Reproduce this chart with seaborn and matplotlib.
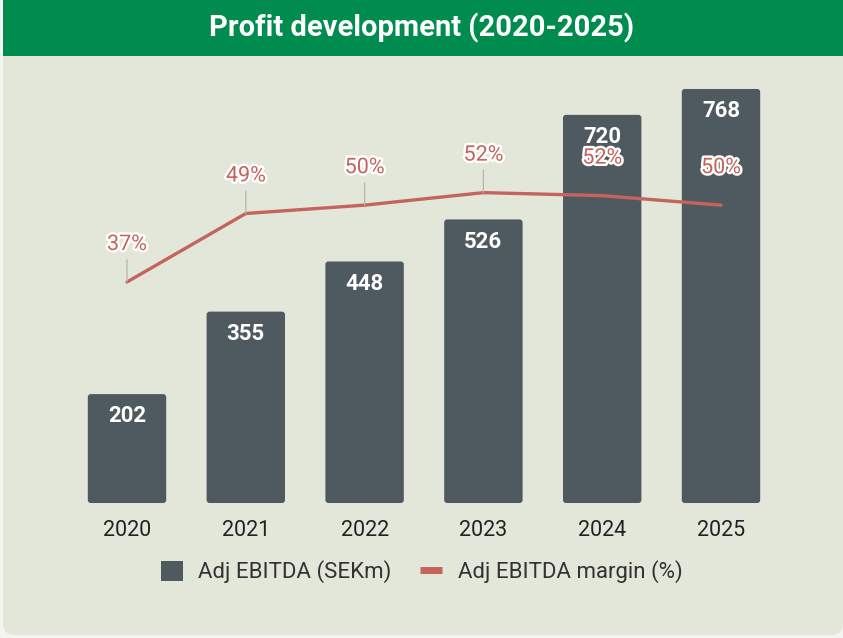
import numpy as np
import pandas as pd
import matplotlib
matplotlib.use("Agg")
import matplotlib.pyplot as plt
import matplotlib.patheffects as pe
from matplotlib.patches import Rectangle, FancyBboxPatch, Patch
from matplotlib.lines import Line2D
import seaborn as sns

# ==========================================
# DATA
# ==========================================
years = ["2020", "2021", "2022", "2023", "2024", "2025"]
ebitda = [202, 355, 448, 526, 720, 768]
margin = [37.1, 48.6, 50.0, 52.1, 51.6, 50.0]
leader = [True, True, True, True, False, False]

TITLE = "Profit development (2020-2025)"
BAR_LABEL = "Adj EBITDA (SEKm)"
LINE_LABEL = "Adj EBITDA margin (%)"

# Colours
GREEN = "#008c4f"
CARD = "#e3e7da"
OUTER = "#f4f5f0"
BAR = "#4f5a60"
LINE = "#c4645c"
TEXT = "#222222"

df = pd.DataFrame({"year": years, "ebitda": ebitda, "margin": margin})

sns.set_theme(style="white")
plt.rcParams["font.family"] = ["Roboto", "DejaVu Sans"]

fig = plt.figure(figsize=(8.43, 6.38), dpi=100)
fig.patch.set_facecolor(OUTER)

# card background + green header (behind the axes)
card = FancyBboxPatch((0.03, 0.03), 8.40, 6.33, boxstyle="round,pad=0,rounding_size=0.12",
                      transform=fig.dpi_scale_trans, facecolor=CARD, edgecolor="none", zorder=-2)
fig.patches.append(card)
header = Rectangle((3 / 843, 1 - 56 / 638), 1 - 3 / 843, 56 / 638, transform=fig.transFigure,
                   facecolor=GREEN, edgecolor="none", zorder=-1)
fig.patches.append(header)
fig.text(0.5, 1 - 28 / 638, TITLE, ha="center", va="center", color="white",
         fontsize=21, fontweight="bold")

# ==========================================
# BARS
# ==========================================
ax = fig.add_axes([67.6 / 843, 135 / 638, 712.8 / 843, 417 / 638])
ax.set_facecolor("none")
sns.barplot(data=df, x="year", y="ebitda", color=BAR, width=0.66, saturation=1,
            linewidth=0, edgecolor="none", ax=ax)
ax.set_ylim(0, 773.5)
ax.set_xlim(-0.5, len(years) - 0.5)

# swap the square bars for slightly rounded ones (same geometry)
fig.canvas.draw()
bbox = ax.get_window_extent()
x_per_px = (ax.get_xlim()[1] - ax.get_xlim()[0]) / bbox.width
y_per_px = (ax.get_ylim()[1] - ax.get_ylim()[0]) / bbox.height
for p in list(ax.patches):
    p.set_visible(False)
    ax.add_patch(FancyBboxPatch((p.get_x(), p.get_y()), p.get_width(), p.get_height(),
                                boxstyle=f"round,pad=0,rounding_size={3 * x_per_px}",
                                mutation_aspect=y_per_px / x_per_px,
                                facecolor=BAR, edgecolor="none", zorder=2))

for i, v in enumerate(ebitda):
    ax.annotate(f"{v}", (i, v), xytext=(0, -16), textcoords="offset points",
                ha="center", va="center", color="white", fontsize=16, fontweight="bold")

# ==========================================
# MARGIN LINE
# ==========================================
ax2 = ax.twinx()
sns.pointplot(data=df, x="year", y="margin", color=LINE, markers="", linewidth=2.4, ax=ax2)
ax2.set_ylim(0, 70)
ax2.set_xlim(-0.5, len(years) - 0.5)
for i, v in enumerate(margin):
    kw = {}
    if leader[i]:
        kw["arrowprops"] = dict(arrowstyle="-", color="#b4b4b4", lw=0.9, shrinkA=1, shrinkB=0)
    ax2.annotate(f"{v:.0f}%", (i, v), xytext=(0, 27), textcoords="offset points",
                 ha="center", va="center", color=LINE, fontsize=15.5,
                 path_effects=[pe.withStroke(linewidth=3.5, foreground="white")], **kw)

for a in (ax, ax2):
    for s in a.spines.values():
        s.set_visible(False)
    a.set_xlabel("")
    a.set_ylabel("")
    a.set_yticks([])
ax.tick_params(axis="x", length=0, pad=12, labelsize=15.5, labelcolor=TEXT)
ax2.tick_params(axis="x", length=0)

# ==========================================
# LEGEND
# ==========================================
handles = [Patch(facecolor=BAR, edgecolor="none"),
           Line2D([0], [0], color=LINE, lw=5, solid_capstyle="butt")]
fig.legend(handles, [BAR_LABEL, LINE_LABEL], loc="center", bbox_to_anchor=(0.5, 1 - 572 / 638),
           ncol=2, frameon=False, fontsize=16, handlelength=1.0, handleheight=1.0,
           handletextpad=0.68, columnspacing=1.3, labelcolor="#333333")

fig.savefig("out.png", dpi=100, facecolor=fig.get_facecolor())
